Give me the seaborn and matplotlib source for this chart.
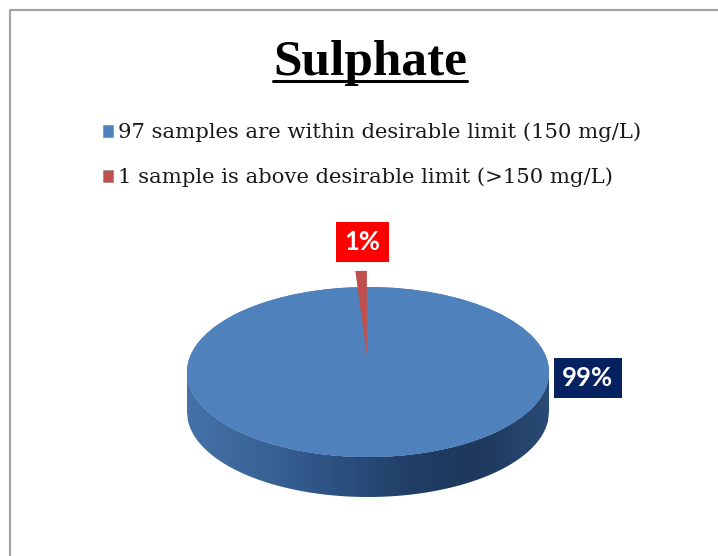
import numpy as np
import matplotlib
matplotlib.use('Agg')
import matplotlib.pyplot as plt
import seaborn as sns
from matplotlib.lines import Line2D
from matplotlib.patches import Ellipse
from matplotlib.colors import LinearSegmentedColormap

# data
title = 'Sulphate'
legend_labels = ['97 samples are within desirable limit (150 mg/L)',
                 '1 sample is above desirable limit (>150 mg/L)']
counts = [97, 1]
slice_colors = ['#4F81BD', '#C0504D']
label_box_colors = ['#06215F', '#FF0000']

sns.set_theme(style='white')

W, H = 718, 556
fig = plt.figure(figsize=(W / 100, H / 100), dpi=100)
fig.patch.set_facecolor('white')

# pie geometry (pixels): centre, radii, thickness
cx, cy, rx, ry, depth = 368, 372, 181, 85, 40

ax = fig.add_axes([0, 0, 1, 1])
xlim = (-cx / rx, (W - cx) / rx)
ylim = (-(H - cy) / ry, cy / ry)

# ---- side of the 3d pie (gradient) ----
x = np.linspace(-1, 1, 400)
y_top = -np.sqrt(1 - x ** 2)
y_bot = y_top - depth / ry
side = ax.fill_between(x, y_bot, y_top, color='none', lw=0, zorder=1)
side_cmap = LinearSegmentedColormap.from_list(
    'side', ['#4472A8', '#3A6497', '#2D5283', '#223F68', '#1E385C', '#2A4A76'])
grad = np.linspace(0, 1, 256)[None, :]
im = ax.imshow(grad, cmap=side_cmap, aspect='auto', zorder=1,
               extent=[-1, 1, y_bot.min(), 0.05])
im.set_clip_path(side.get_paths()[0], transform=ax.transData)

# face under the exploded slice (cut faces of the big slice)
ax.add_patch(Ellipse((0, 0), 2, 2, fc=slice_colors[0], lw=0, zorder=1.5))

# ---- top of the pie ----
wedges, texts, autotexts = ax.pie(
    counts, colors=slice_colors, startangle=90, counterclock=False,
    explode=[0, 0.19], autopct=lambda p: f'{p:.0f}%',
    wedgeprops=dict(linewidth=0), textprops=dict(color='white'))
for w in wedges:
    w.set_zorder(2)

ax.set_xlim(*xlim)
ax.set_ylim(*ylim)
ax.set_aspect('auto')
ax.axis('off')

# data labels in boxes, as Excel placed them
label_pos = [(1.215, -0.07), (-0.03, 1.53)]
for t, c, pos in zip(autotexts, label_box_colors, label_pos):
    t.set_position(pos)
    t.set_fontsize(18.5)
    t.set_fontweight('bold')
    t.set_family('Lato')
    t.set_ha('center')
    t.set_va('center')
    t.set_zorder(5)
    t.set_bbox(dict(boxstyle='square,pad=0.32', fc=c, ec='none'))

# ---- legend ----
leg = ax.legend(wedges, legend_labels, loc='upper center',
                bbox_to_anchor=(372 / W, 1 - 112 / H), bbox_transform=fig.transFigure,
                frameon=False, prop=dict(family='DejaVu Serif', size=15.2),
                handlelength=0.5, handleheight=0.5, handletextpad=0.25,
                labelspacing=1.2, borderpad=0)
for h in leg.legend_handles:
    h.set_edgecolor('#7F7F7F')
    h.set_linewidth(0.4)
for txt in leg.get_texts():
    txt.set_color('#1A1A1A')

# ---- title with underline ----
ttl = fig.text(370 / W, 1 - 75 / H, title, ha='center', va='baseline',
               family='Liberation Serif', fontweight='bold', fontsize=37, color='black')
fig.canvas.draw()
bb = ttl.get_window_extent()
fig.add_artist(Line2D([bb.x0 / W, bb.x1 / W], [1 - 80.5 / H, 1 - 80.5 / H],
                      transform=fig.transFigure, color='black', lw=2.2))

# chart area border (top and left visible)
fig.add_artist(Line2D([9.5 / W, 9.5 / W, 1.0], [0.0, 1 - 9.5 / H, 1 - 9.5 / H],
                      transform=fig.transFigure, color='#A6A6A6', lw=1.6))

fig.savefig('out.png', dpi=100, facecolor='white')
